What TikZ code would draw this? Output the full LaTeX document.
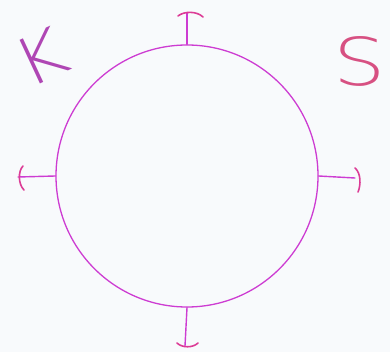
\documentclass[tikz,border=0pt]{standalone}
\usepackage{fontspec}
\newfontfamily\thinfont[Extension=.ttf]{DejaVuSans-ExtraLight}
\definecolor{bg}{RGB}{248,250,252}
\definecolor{ring}{RGB}{205,60,210}
\definecolor{capc}{RGB}{220,60,150}
\definecolor{kcol}{RGB}{175,70,180}
\definecolor{scol}{RGB}{215,80,130}
\tikzset{
  ringline/.style={draw=ring, line width=1.3pt},
  tickline/.style={draw=ring, line width=1.4pt, line cap=round},
  capline/.style={draw=capc, line width=1.6pt, line cap=round},
  letter/.style={inner sep=0pt, font=\thinfont\fontsize{66}{66}\selectfont}
}
\begin{document}
\begin{tikzpicture}[x=1pt,y=-1pt]
\fill[bg] (0,0) rectangle (390,352);
\useasboundingbox (0,0) rectangle (390,352);
\node[circle, ringline, minimum size=262pt, inner sep=0pt] (ring) at (187,176) {};
% ticks
\coordinate (tt) at (187,13);
\coordinate (lt) at (18,177);
\coordinate (rt) at (355,178);
\coordinate (bt) at (185,346);
\draw[tickline] (ring.north) -- (tt);
\draw[tickline] (ring.west) -- (lt);
\draw[tickline] (ring.east) -- (rt);
\draw[tickline] (ring.south) -- (bt);
% caps
\draw[capline] (178,16) .. controls (184,11) and (197,11) .. (203,17);
\draw[capline] (23,166) .. controls (18,171) and (18,184) .. (24,190);
\draw[capline] (355,168) .. controls (361,173) and (361,185) .. (358,192);
\draw[capline] (177,343) .. controls (182,348) and (193,348) .. (198,343);
% letters
\node[letter, text=kcol, rotate=25, xscale=1.15] (K) at (41,57) {K};
\node[letter, text=scol, xscale=1.25] (S) at (360,61) {S};
\end{tikzpicture}
\end{document}
